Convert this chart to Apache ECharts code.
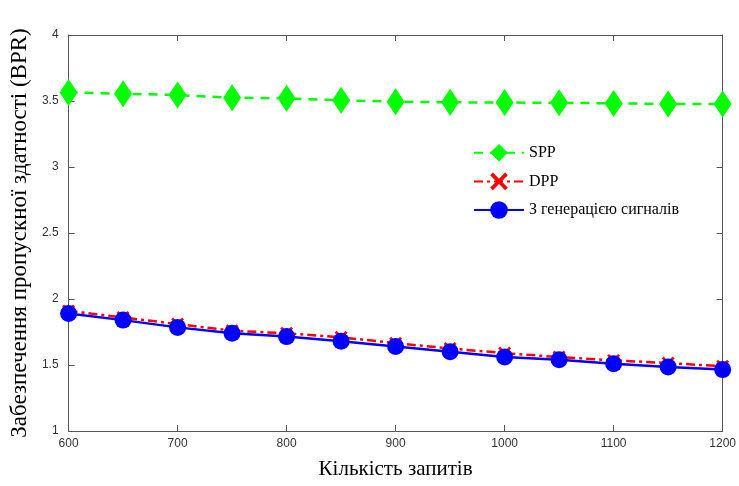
<!DOCTYPE html>
<html><head><meta charset="utf-8">
<script src="https://cdn.jsdelivr.net/npm/echarts@6/dist/echarts.min.js"></script>
<style>html,body{margin:0;padding:0;background:#fff}#c{width:739px;height:486px}</style>
</head><body><div id="c"></div>
<script>
const requests = [600, 650, 700, 750, 800, 850, 900, 950, 1000, 1050, 1100, 1150, 1200];
const spp = [3.565, 3.555, 3.545, 3.525, 3.52, 3.505, 3.495, 3.49, 3.488, 3.487, 3.482, 3.478, 3.477];
const dpp = [1.91, 1.86, 1.81, 1.76, 1.74, 1.71, 1.665, 1.625, 1.59, 1.56, 1.535, 1.515, 1.49];
const gen = [1.89, 1.84, 1.785, 1.74, 1.715, 1.68, 1.64, 1.6, 1.56, 1.54, 1.51, 1.485, 1.465];
const seriesNames = ['SPP', 'DPP', 'З генерацією сигналів'];
const xTitle = 'Кількість запитів';
const yTitle = 'Забезпечення пропускної здатності (BPR)';

const pair = arr => requests.map((x, i) => [x, arr[i]]);
const crossPath = 'path://M0,1.5 L1.5,0 L5,3.5 L8.5,0 L10,1.5 L6.5,5 L10,8.5 L8.5,10 L5,6.5 L1.5,10 L0,8.5 L3.5,5 Z';
const axisColor = '#555';
const chart = echarts.init(document.getElementById('c'));
chart.setOption({
  animation: false,
  backgroundColor: '#fff',
  grid: { left: 68, right: 13, top: 35, bottom: 55 },
  legend: {
    orient: 'vertical', left: 468, top: 139, itemGap: 11, itemWidth: 50, itemHeight: 22,
    textStyle: { fontFamily: 'Liberation Serif', fontSize: 16, color: '#000' },
    data: seriesNames
  },
  xAxis: [{
    type: 'value', min: 600, max: 1200, interval: 100,
    name: xTitle, nameLocation: 'middle', nameGap: 28,
    nameTextStyle: { fontFamily: 'Liberation Serif', fontSize: 21, color: '#000' },
    axisLine: { lineStyle: { color: axisColor } },
    axisTick: { inside: true, length: 6, lineStyle: { color: axisColor } },
    axisLabel: { fontFamily: 'Liberation Sans', fontSize: 12, color: '#333', margin: 7, formatter: v => String(v) },
    splitLine: { show: false }
  }, {
    type: 'value', min: 600, max: 1200, interval: 100, position: 'top',
    axisLine: { onZero: false, lineStyle: { color: axisColor } },
    axisTick: { inside: true, length: 6, lineStyle: { color: axisColor } },
    axisLabel: { show: false }, splitLine: { show: false }
  }],
  yAxis: [{
    type: 'value', min: 1, max: 4, interval: 0.5,
    name: yTitle, nameLocation: 'middle', nameGap: 34, nameRotate: 90,
    nameTextStyle: { fontFamily: 'Liberation Serif', fontSize: 23, color: '#000' },
    axisLine: { show: true, lineStyle: { color: axisColor } },
    axisTick: { show: true, inside: true, length: 6, lineStyle: { color: axisColor } },
    axisLabel: { fontFamily: 'Liberation Sans', fontSize: 12, color: '#333', margin: 10 },
    splitLine: { show: false }
  }, {
    type: 'value', min: 1, max: 4, interval: 0.5, position: 'right',
    axisLine: { show: true, onZero: false, lineStyle: { color: axisColor } },
    axisTick: { show: true, inside: true, length: 6, lineStyle: { color: axisColor } },
    axisLabel: { show: false }, splitLine: { show: false }
  }],
  series: [{
    name: seriesNames[0], type: 'line', data: pair(spp),
    symbol: 'diamond', symbolSize: [18, 27],
    itemStyle: { color: '#00ff00' },
    lineStyle: { color: '#00ff00', width: 2.5, type: [9, 7] }
  }, {
    name: seriesNames[1], type: 'line', data: pair(dpp),
    symbol: crossPath, symbolSize: 13,
    itemStyle: { color: '#ff0000' },
    lineStyle: { color: '#ff0000', width: 2.5, type: [9, 4, 3, 4] }
  }, {
    name: seriesNames[2], type: 'line', data: pair(gen),
    symbol: 'circle', symbolSize: 17,
    itemStyle: { color: '#0000ff' },
    lineStyle: { color: '#0000ff', width: 2.5 }
  }]
});
</script></body></html>
